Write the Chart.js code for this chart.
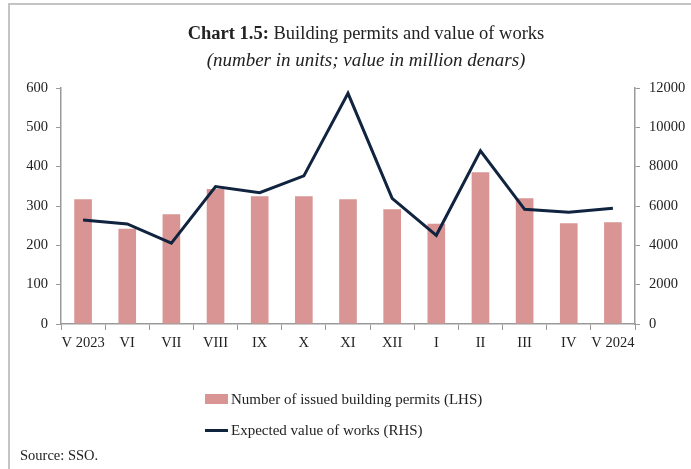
<!DOCTYPE html>
<html>
<head>
<meta charset="utf-8">
<script src="https://cdn.jsdelivr.net/npm/chart.js@4.4.1/dist/chart.umd.min.js"></script>
<style>
  html, body { margin: 0; padding: 0; background: #fff; }
  #wrap { position: relative; width: 691px; height: 469px; overflow: hidden; font-family: "Liberation Serif", serif; color: #222; }
  #frame { position: absolute; left: 8px; top: 3px; width: 700px; height: 480px; border-left: 2px solid #c4c4c4; border-top: 2px solid #c4c4c4; }
  canvas { position: absolute; left: 0; top: 0; }
  .t { position: absolute; left: 166px; width: 400px; text-align: center; white-space: nowrap; }
  #title { top: 22px; font-size: 18.5px; line-height: 22px; }
  #subtitle { top: 49px; font-size: 19px; line-height: 22px; font-style: italic; }
  #legend { position: absolute; left: 205px; top: 388px; font-size: 15px; }
  .li { display: flex; align-items: center; height: 22px; margin-bottom: 9px; white-space: nowrap; }
  .sw { width: 23px; height: 10px; margin-right: 3px; }
  .ln { width: 23px; height: 3px; margin-right: 3px; }
  #source { position: absolute; left: 20px; top: 445px; font-size: 14.5px; line-height: 20px; }
</style>
</head>
<body>
<div id="wrap">
  <div id="frame"></div>
  <canvas id="c" width="691" height="469"></canvas>
  <div id="title" class="t"><b>Chart 1.5:</b> Building permits and value of works</div>
  <div id="subtitle" class="t">(number in units; value in million denars)</div>
  <div id="legend"></div>
  <div id="source">Source: SSO.</div>
</div>
<script>
const categories = ["V 2023", "VI", "VII", "VIII", "IX", "X", "XI", "XII", "I", "II", "III", "IV", "V 2024"];
const permits = [317, 242, 279, 343, 325, 325, 317, 292, 255, 386, 320, 256, 259];
const valueOfWorks = [5290, 5090, 4110, 6990, 6680, 7530, 11730, 6390, 4510, 8810, 5830, 5680, 5880];
const leftTicks = [0, 100, 200, 300, 400, 500, 600];
const rightTicks = [0, 2000, 4000, 6000, 8000, 10000, 12000];
const seriesNames = ["Number of issued building permits (LHS)", "Expected value of works (RHS)"];

const barColor = "#d99594";
const lineColor = "#10233f";
const axisColor = "#9a9a9a";
const tickFont = { family: "Liberation Serif", size: 14.5 };
const plain = v => String(v);

const chart = new Chart(document.getElementById("c"), {
  data: {
    labels: categories,
    datasets: [
      { type: "bar", label: seriesNames[0], data: permits, backgroundColor: barColor, yAxisID: "yL",
        categoryPercentage: 1, barPercentage: 0.4, order: 2 },
      { type: "line", label: seriesNames[1], data: valueOfWorks, borderColor: lineColor, borderWidth: 3,
        pointRadius: 0, tension: 0, yAxisID: "yR", order: 1 }
    ]
  },
  options: {
    responsive: false,
    animation: false,
    devicePixelRatio: 1,
    layout: { padding: { top: 88, left: 0, right: 0, bottom: 0 } },
    plugins: { legend: { display: false }, title: { display: false }, tooltip: { enabled: false } },
    scales: {
      x: {
        offset: true,
        grid: { offset: true, drawOnChartArea: false, drawTicks: true, tickLength: 6, color: axisColor },
        border: { color: axisColor, width: 1.5 },
        ticks: { font: tickFont, color: "#222", padding: 4, maxRotation: 0, autoSkip: false },
        afterFit: s => { s.height = 469 - 324; }
      },
      yL: {
        position: "left", min: 0, max: 600,
        afterBuildTicks: s => { s.ticks = leftTicks.map(v => ({ value: v })); },
        grid: { drawOnChartArea: false, tickLength: 5, color: axisColor },
        border: { color: axisColor, width: 1.5 },
        ticks: { font: tickFont, color: "#222", padding: 8, callback: plain },
        afterFit: s => { s.width = 61; }
      },
      yR: {
        position: "right", min: 0, max: 12000,
        afterBuildTicks: s => { s.ticks = rightTicks.map(v => ({ value: v })); },
        grid: { drawOnChartArea: false, tickLength: 5, color: axisColor },
        border: { color: axisColor, width: 1.5 },
        ticks: { font: tickFont, color: "#222", padding: 9, callback: plain },
        afterFit: s => { s.width = 691 - 635; }
      }
    }
  }
});

// HTML legend built from the chart's datasets
const leg = document.getElementById("legend");
chart.data.datasets.forEach(ds => {
  const row = document.createElement("div");
  row.className = "li";
  const mk = document.createElement("span");
  if (ds.type === "bar") { mk.className = "sw"; mk.style.background = ds.backgroundColor; }
  else { mk.className = "ln"; mk.style.background = ds.borderColor; }
  row.appendChild(mk);
  const tx = document.createElement("span");
  tx.textContent = ds.label;
  row.appendChild(tx);
  leg.appendChild(row);
});
</script>
</body>
</html>
